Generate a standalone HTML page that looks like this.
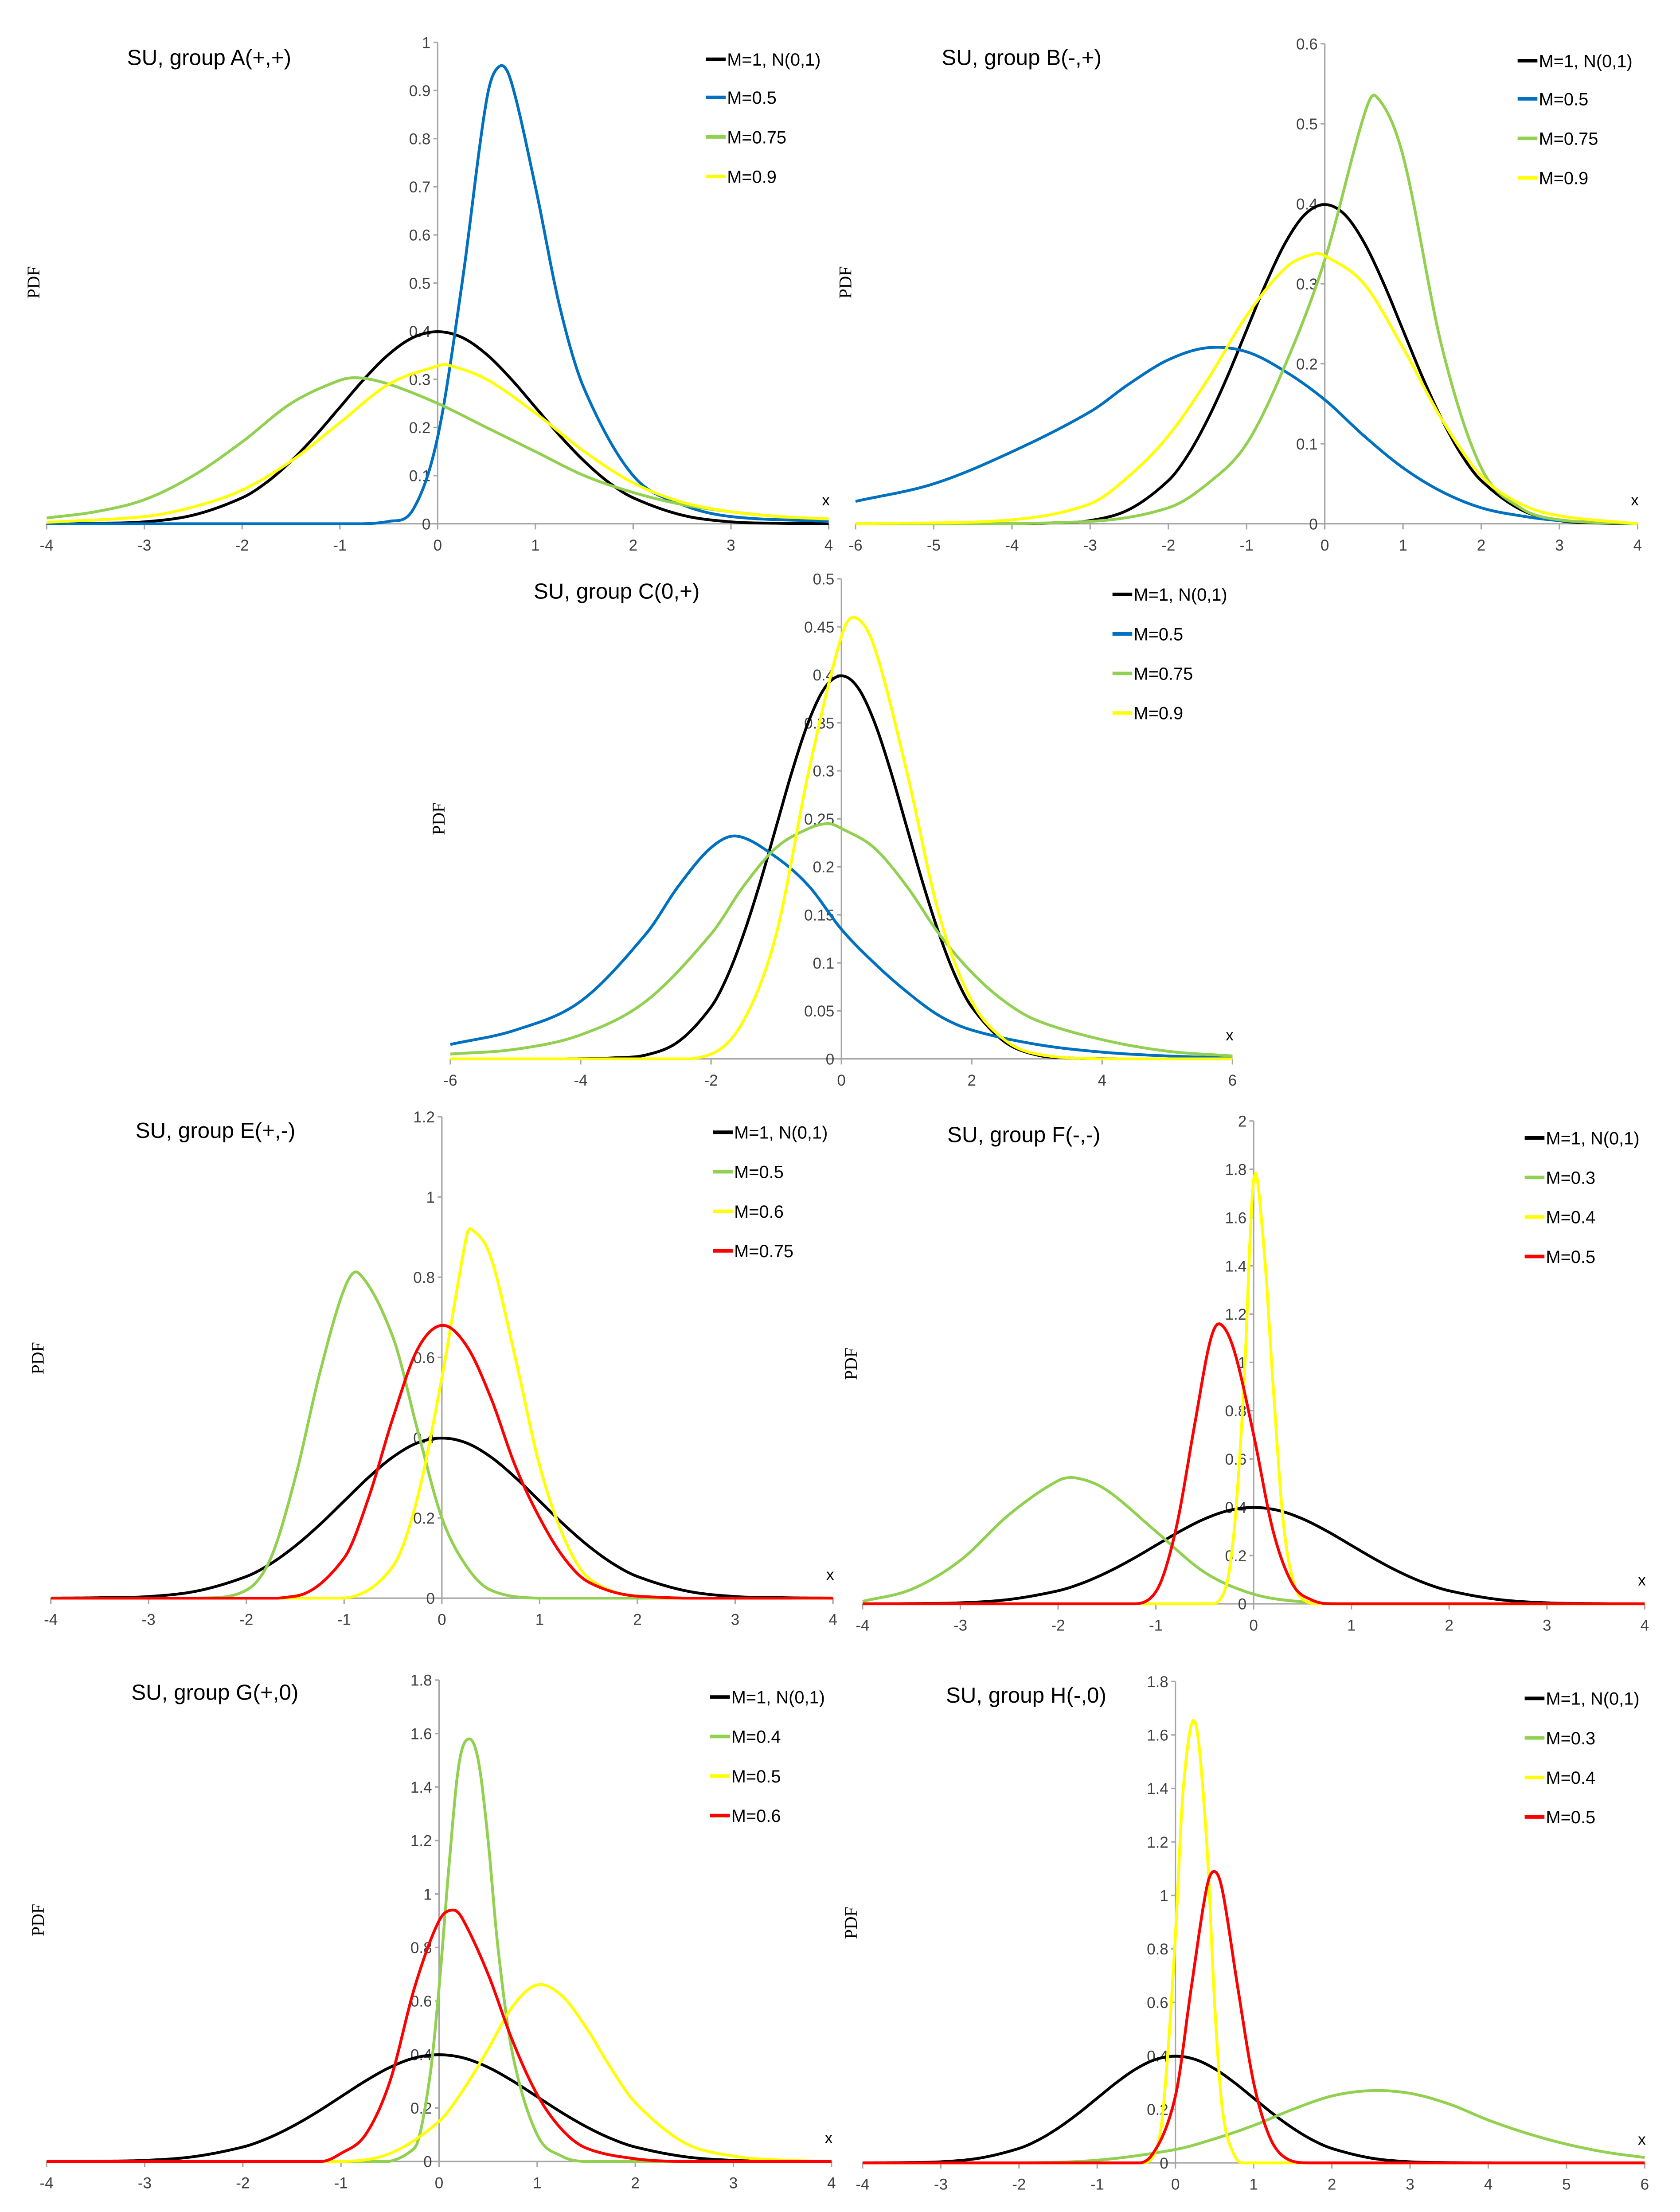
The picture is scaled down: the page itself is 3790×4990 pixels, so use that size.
<!DOCTYPE html>
<html><head><meta charset="utf-8">
<style>
html,body{margin:0;padding:0;background:#fff;}
svg{display:block;}
text{font-family:"Liberation Sans",sans-serif;}
</style></head>
<body>
<svg id="fig" width="3790" height="4990" viewBox="0 0 1190 1566.8" xmlns="http://www.w3.org/2000/svg"></svg>
<script>
// ---------- data ----------
// standard normal (black) sample points
const normX = [-6,-5,-4,-3.5,-3,-2.5,-2,-1.75,-1.5,-1.25,-1,-0.75,-0.5,-0.25,0,0.25,0.5,0.75,1,1.25,1.5,1.75,2,2.5,3,3.5,4,5,6];
const normY = [0,0,0.0001,0.001,0.004,0.018,0.054,0.086,0.13,0.183,0.242,0.301,0.352,0.387,0.399,0.387,0.352,0.301,0.242,0.183,0.13,0.086,0.054,0.018,0.004,0.001,0.0001,0,0];

// Panel A
const aBlueX = [-4,-1,-0.5,-0.25,0,0.25,0.5,0.63,0.75,1,1.25,1.5,2,2.5,3,4];
const aBlueY = [0,0,0.005,0.03,0.18,0.5,0.88,0.95,0.92,0.7,0.45,0.28,0.1,0.04,0.015,0.005];
const aGreenX = [-4,-3.5,-3,-2.5,-2,-1.5,-1,-0.8,-0.5,0,0.5,1,1.5,2,2.5,3,3.5,4];
const aGreenY = [0.012,0.025,0.05,0.1,0.17,0.25,0.298,0.303,0.29,0.25,0.2,0.15,0.1,0.065,0.04,0.025,0.015,0.01];
const aYellowX = [-4,-3,-2.5,-2,-1.5,-1,-0.5,0,0.1,0.5,1,1.5,2,2.5,3,3.5,4];
const aYellowY = [0.003,0.015,0.035,0.07,0.13,0.21,0.29,0.328,0.33,0.3,0.23,0.15,0.085,0.045,0.025,0.015,0.01];

// Panel B
const bBlueX = [-6,-5,-4,-3,-2.5,-2,-1.5,-1,-0.5,0,0.5,1,1.5,2,2.5,3,4];
const bBlueY = [0.028,0.05,0.09,0.14,0.175,0.205,0.22,0.215,0.19,0.155,0.11,0.07,0.04,0.02,0.01,0.004,0];
const bGreenX = [-6,-3,-2,-1.5,-1,-0.5,0,0.5,0.65,1,1.5,2,2.5,3,4];
const bGreenY = [0,0.003,0.02,0.05,0.1,0.2,0.33,0.51,0.535,0.46,0.22,0.07,0.02,0.005,0];
const bYellowX = [-6,-4,-3,-2.5,-2,-1.5,-1,-0.5,-0.15,0,0.5,1,1.5,2,2.5,3,4];
const bYellowY = [0,0.005,0.025,0.06,0.11,0.18,0.26,0.32,0.337,0.335,0.3,0.22,0.13,0.06,0.025,0.01,0];

// Panel C
const cBlueX = [-6,-5,-4,-3,-2.5,-2,-1.6,-1,-0.5,0,0.5,1,1.5,2,3,4,5,6];
const cBlueY = [0.015,0.03,0.06,0.13,0.18,0.22,0.232,0.21,0.18,0.135,0.1,0.07,0.045,0.03,0.015,0.007,0.003,0.001];
const cGreenX = [-6,-5,-4,-3,-2,-1.5,-1,-0.5,-0.2,0,0.5,1,1.5,2,2.5,3,4,5,6];
const cGreenY = [0.005,0.01,0.025,0.06,0.13,0.18,0.22,0.24,0.245,0.24,0.22,0.18,0.13,0.09,0.06,0.04,0.02,0.008,0.003];
const cYellowX = [-6,-3,-2,-1.5,-1,-0.5,0,0.2,0.5,1,1.5,2,2.5,3,4,6];
const cYellowY = [0,0,0.005,0.04,0.13,0.3,0.44,0.46,0.43,0.3,0.15,0.06,0.02,0.005,0,0];

// Panel E
const eGreenX = [-4,-2.5,-2,-1.75,-1.5,-1.25,-1,-0.85,-0.5,-0.25,0,0.25,0.5,1,4];
const eGreenY = [0,0,0.02,0.1,0.3,0.56,0.77,0.81,0.65,0.42,0.2,0.08,0.02,0,0];
const eYellowX = [-4,-1,-0.5,-0.25,0,0.25,0.3,0.5,0.75,1,1.25,1.5,2,4];
const eYellowY = [0,0,0.08,0.25,0.55,0.9,0.92,0.85,0.6,0.33,0.15,0.05,0.005,0];
const eRedX = [-4,-1.5,-1,-0.75,-0.5,-0.25,0,0.25,0.5,0.75,1,1.25,1.5,2,4];
const eRedY = [0,0.005,0.1,0.25,0.45,0.62,0.68,0.63,0.5,0.33,0.2,0.1,0.04,0.005,0];

// Panel F
const fGreenX = [-4,-3.5,-3,-2.5,-2,-1.8,-1.5,-1,-0.5,0,0.5,1,4];
const fGreenY = [0.01,0.06,0.18,0.37,0.51,0.52,0.47,0.3,0.13,0.04,0.008,0,0];
const fYellowX = [-4,-0.5,-0.3,-0.2,-0.1,0,0.1,0.2,0.3,0.4,0.5,0.7,4];
const fYellowY = [0,0,0.05,0.3,0.9,1.76,1.5,0.9,0.35,0.1,0.02,0,0];
const fRedX = [-4,-1.3,-1,-0.8,-0.6,-0.45,-0.35,-0.2,0,0.2,0.4,0.6,0.8,4];
const fRedY = [0,0,0.05,0.3,0.75,1.08,1.16,1.05,0.7,0.3,0.08,0.015,0,0];

// Panel G
const gGreenX = [-4,-1,-0.25,-0.1,0,0.1,0.2,0.3,0.4,0.5,0.6,0.75,1,1.25,1.5,4];
const gGreenY = [0,0,0.05,0.3,0.65,1.1,1.48,1.58,1.5,1.2,0.8,0.4,0.1,0.02,0,0];
const gYellowX = [-4,-1,-0.5,0,0.25,0.5,0.75,1,1.25,1.5,1.75,2,2.5,3,3.5,4];
const gYellowY = [0,0,0.03,0.15,0.27,0.42,0.58,0.66,0.62,0.5,0.35,0.22,0.07,0.02,0.005,0];
const gRedX = [-4,-1.2,-1,-0.75,-0.5,-0.25,0,0.15,0.25,0.5,0.75,1,1.25,1.5,2,2.5,4];
const gRedY = [0,0,0.03,0.1,0.3,0.65,0.9,0.94,0.9,0.7,0.45,0.25,0.12,0.05,0.01,0,0];

// Panel H
const hGreenX = [-4,-2,-1,0,0.5,1,1.5,2,2.5,3,3.5,4,4.5,5,5.5,6];
const hGreenY = [0,0,0.01,0.05,0.09,0.14,0.2,0.25,0.27,0.26,0.22,0.16,0.11,0.07,0.04,0.02];
const hYellowX = [-4,-0.4,-0.2,-0.1,0,0.1,0.25,0.4,0.5,0.6,0.75,0.9,6];
const hYellowY = [0,0,0.1,0.4,0.85,1.4,1.65,1.2,0.6,0.2,0.03,0,0];
const hRedX = [-4,-0.6,-0.3,0,0.2,0.4,0.5,0.6,0.8,1,1.2,1.4,1.7,6];
const hRedY = [0,0,0.03,0.25,0.65,1.03,1.09,1.02,0.65,0.3,0.1,0.02,0,0];

// tick labels
const ticksA_Y = [0,0.1,0.2,0.3,0.4,0.5,0.6,0.7,0.8,0.9,1];
const ticksB_Y = [0,0.1,0.2,0.3,0.4,0.5,0.6];
const ticksC_Y = [0,0.05,0.1,0.15,0.2,0.25,0.3,0.35,0.4,0.45,0.5];
const ticksE_Y = [0,0.2,0.4,0.6,0.8,1,1.2];
const ticksF_Y = [0,0.2,0.4,0.6,0.8,1,1.2,1.4,1.6,1.8,2];
const ticksGH_Y = [0,0.2,0.4,0.6,0.8,1,1.2,1.4,1.6,1.8];
const ticksX_4 = [-4,-3,-2,-1,0,1,2,3,4];
const ticksX_64 = [-6,-5,-4,-3,-2,-1,0,1,2,3,4];
const ticksX_66 = [-6,-4,-2,0,2,4,6];
const ticksX_46 = [-4,-3,-2,-1,0,1,2,3,4,5,6];

const C = {black:'#000000', blue:'#0070C0', green:'#92D050', yellow:'#FFFF00', red:'#FF0000'};

const panels = [
 {id:'a', title:'SU, group A(+,+)', tx:90, ty:46, px0:33, px1:587, py0:371, py1:30, xmin:-4, xmax:4, ymax:1, yt:ticksA_Y, xt:ticksX_4, lx:500, ly:[42,69,97,125], pdfx:28, pdfy:200,
  series:[['M=1, N(0,1)',C.black,normX,normY],['M=0.5',C.blue,aBlueX,aBlueY],['M=0.75',C.green,aGreenX,aGreenY],['M=0.9',C.yellow,aYellowX,aYellowY]]},
 {id:'b', title:'SU, group B(-,+)', tx:667, ty:46, px0:606, px1:1160, py0:371, py1:31, xmin:-6, xmax:4, ymax:0.6, yt:ticksB_Y, xt:ticksX_64, lx:1075, ly:[43,70,98,126], pdfx:603, pdfy:200,
  series:[['M=1, N(0,1)',C.black,normX,normY],['M=0.5',C.blue,bBlueX,bBlueY],['M=0.75',C.green,bGreenX,bGreenY],['M=0.9',C.yellow,bYellowX,bYellowY]]},
 {id:'c', title:'SU, group C(0,+)', tx:378, ty:424, px0:319, px1:873, py0:750, py1:410, xmin:-6, xmax:6, ymax:0.5, yt:ticksC_Y, xt:ticksX_66, lx:788, ly:[421,449,477,505], pdfx:315, pdfy:580,
  series:[['M=1, N(0,1)',C.black,normX,normY],['M=0.5',C.blue,cBlueX,cBlueY],['M=0.75',C.green,cGreenX,cGreenY],['M=0.9',C.yellow,cYellowX,cYellowY]]},
 {id:'e', title:'SU, group E(+,-)', tx:96, ty:806, px0:36, px1:590, py0:1132, py1:791, xmin:-4, xmax:4, ymax:1.2, yt:ticksE_Y, xt:ticksX_4, lx:505, ly:[802,830,858,886], pdfx:31, pdfy:962,
  series:[['M=1, N(0,1)',C.black,normX,normY],['M=0.5',C.green,eGreenX,eGreenY],['M=0.6',C.yellow,eYellowX,eYellowY],['M=0.75',C.red,eRedX,eRedY]]},
 {id:'f', title:'SU, group F(-,-)', tx:671, ty:809, px0:611, px1:1165, py0:1136, py1:794, xmin:-4, xmax:4, ymax:2, yt:ticksF_Y, xt:ticksX_4, lx:1080, ly:[806,834,862,890], pdfx:607, pdfy:966,
  series:[['M=1, N(0,1)',C.black,normX,normY],['M=0.3',C.green,fGreenX,fGreenY],['M=0.4',C.yellow,fYellowX,fYellowY],['M=0.5',C.red,fRedX,fRedY]]},
 {id:'g', title:'SU, group G(+,0)', tx:93, ty:1204, px0:33, px1:589, py0:1531, py1:1190, xmin:-4, xmax:4, ymax:1.8, yt:ticksGH_Y, xt:ticksX_4, lx:503, ly:[1202,1230,1258,1286], pdfx:31, pdfy:1360,
  series:[['M=1, N(0,1)',C.black,normX,normY],['M=0.4',C.green,gGreenX,gGreenY],['M=0.5',C.yellow,gYellowX,gYellowY],['M=0.6',C.red,gRedX,gRedY]]},
 {id:'h', title:'SU, group H(-,0)', tx:670, ty:1206, px0:611, px1:1165, py0:1532, py1:1191, xmin:-4, xmax:6, ymax:1.8, yt:ticksGH_Y, xt:ticksX_46, lx:1080, ly:[1203,1231,1259,1287], pdfx:607, pdfy:1362,
  series:[['M=1, N(0,1)',C.black,normX,normY],['M=0.3',C.green,hGreenX,hGreenY],['M=0.4',C.yellow,hYellowX,hYellowY],['M=0.5',C.red,hRedX,hRedY]]}
];

const NS='http://www.w3.org/2000/svg';
const svg=document.getElementById('fig');
function mk(tag, parent){const e=document.createElementNS(NS,tag);parent.appendChild(e);return e;}

// smooth Hermite spline (centered tangents), sampled and clamped to baseline
function smoothPath(pts, base){
  const n=pts.length; if(n<2) return '';
  const m=[];
  for(let i=0;i<n;i++){
    const a=pts[Math.max(0,i-1)], b=pts[Math.min(n-1,i+1)];
    m[i]=(b[1]-a[1])/(b[0]-a[0]);
  }
  let s='M'+pts[0][0].toFixed(2)+','+pts[0][1].toFixed(2);
  for(let i=0;i<n-1;i++){
    const x0=pts[i][0],y0=pts[i][1],x1=pts[i+1][0],y1=pts[i+1][1],h=x1-x0;
    const steps=Math.max(2,Math.ceil(h/1.5));
    for(let k=1;k<=steps;k++){
      const t=k/steps,t2=t*t,t3=t2*t;
      let y=(2*t3-3*t2+1)*y0+(t3-2*t2+t)*h*m[i]+(-2*t3+3*t2)*y1+(t3-t2)*h*m[i+1];
      if(y>base) y=base;
      s+=' L'+(x0+h*t).toFixed(2)+','+y.toFixed(2);
    }
  }
  return s;
}

panels.forEach(p=>{
  const g=mk('g',svg);
  
  
  const sx=v=>p.px0+(v-p.xmin)/(p.xmax-p.xmin)*(p.px1-p.px0);
  const sy=v=>p.py0-(v/p.ymax)*(p.py0-p.py1);
  const ax=sx(0);
  const xa=mk('line',g);
  
  
  xa.setAttribute('x1',p.px0);xa.setAttribute('x2',p.px1);xa.setAttribute('y1',p.py0);xa.setAttribute('y2',p.py0);
  xa.setAttribute('stroke','#a6a6a6');xa.setAttribute('stroke-width','1');
  p.xt.forEach(v=>{
    const t=mk('line',g);
    
    
    t.setAttribute('x1',sx(v));t.setAttribute('x2',sx(v));t.setAttribute('y1',p.py0);t.setAttribute('y2',p.py0+4);
    t.setAttribute('stroke','#a6a6a6');t.setAttribute('stroke-width','1');
    const l=mk('text',g);
    
    
    l.setAttribute('x',sx(v));l.setAttribute('y',p.py0+19);l.setAttribute('text-anchor','middle');
    l.setAttribute('font-size','11');l.setAttribute('fill','#404040');
    l.textContent=String(v);
  });
  const ya=mk('line',g);
  
  
  ya.setAttribute('x1',ax);ya.setAttribute('x2',ax);ya.setAttribute('y1',p.py0);ya.setAttribute('y2',p.py1);
  ya.setAttribute('stroke','#a6a6a6');ya.setAttribute('stroke-width','1');
  p.yt.forEach(v=>{
    const t=mk('line',g);
    
    
    t.setAttribute('x1',ax-3);t.setAttribute('x2',ax);t.setAttribute('y1',sy(v));t.setAttribute('y2',sy(v));
    t.setAttribute('stroke','#a6a6a6');t.setAttribute('stroke-width','1');
    const l=mk('text',g);
    
    
    l.setAttribute('x',ax-5);l.setAttribute('y',sy(v)+4);l.setAttribute('text-anchor','end');
    l.setAttribute('font-size','11');l.setAttribute('fill','#404040');
    l.textContent=String(v);
  });
  const xl=mk('text',g);
  
  
  xl.setAttribute('x',p.px1-2);xl.setAttribute('y',p.py0-13);xl.setAttribute('font-size','11');xl.setAttribute('text-anchor','middle');
  xl.textContent='x';
  const yl=mk('text',g);
  
  
  yl.setAttribute('x',p.pdfx);yl.setAttribute('y',p.pdfy);yl.setAttribute('font-size','12.5');
  yl.setAttribute('style','font-family:"Liberation Serif",serif');
  yl.setAttribute('text-anchor','middle');
  yl.setAttribute('transform','rotate(-90 '+p.pdfx+' '+p.pdfy+')');
  yl.textContent='PDF';
  const ti=mk('text',g);
  
  
  ti.setAttribute('x',p.tx);ti.setAttribute('y',p.ty);ti.setAttribute('font-size','15.5');
  ti.textContent=p.title;
  p.series.forEach((s,i)=>{
    const pts=s[2].map((x,k)=>[x,s[3][k]]).filter(q=>q[0]>=p.xmin-1e-9&&q[0]<=p.xmax+1e-9).map(q=>[sx(q[0]),sy(q[1])]);
    const path=mk('path',g);
    
    
    path.setAttribute('d',smoothPath(pts,p.py0));
    path.setAttribute('fill','none');path.setAttribute('stroke',s[1]);path.setAttribute('stroke-width','2');
    path.setAttribute('stroke-linejoin','round');
    const ll=mk('line',g);
    
    
    ll.setAttribute('x1',p.lx);ll.setAttribute('x2',p.lx+14);ll.setAttribute('y1',p.ly[i]);ll.setAttribute('y2',p.ly[i]);
    ll.setAttribute('stroke',s[1]);ll.setAttribute('stroke-width','2.5');
    const lt=mk('text',g);
    
    
    lt.setAttribute('x',p.lx+15);lt.setAttribute('y',p.ly[i]+4.5);lt.setAttribute('font-size','12.5');
    lt.textContent=s[0];
  });
});
</script>
</body></html>
